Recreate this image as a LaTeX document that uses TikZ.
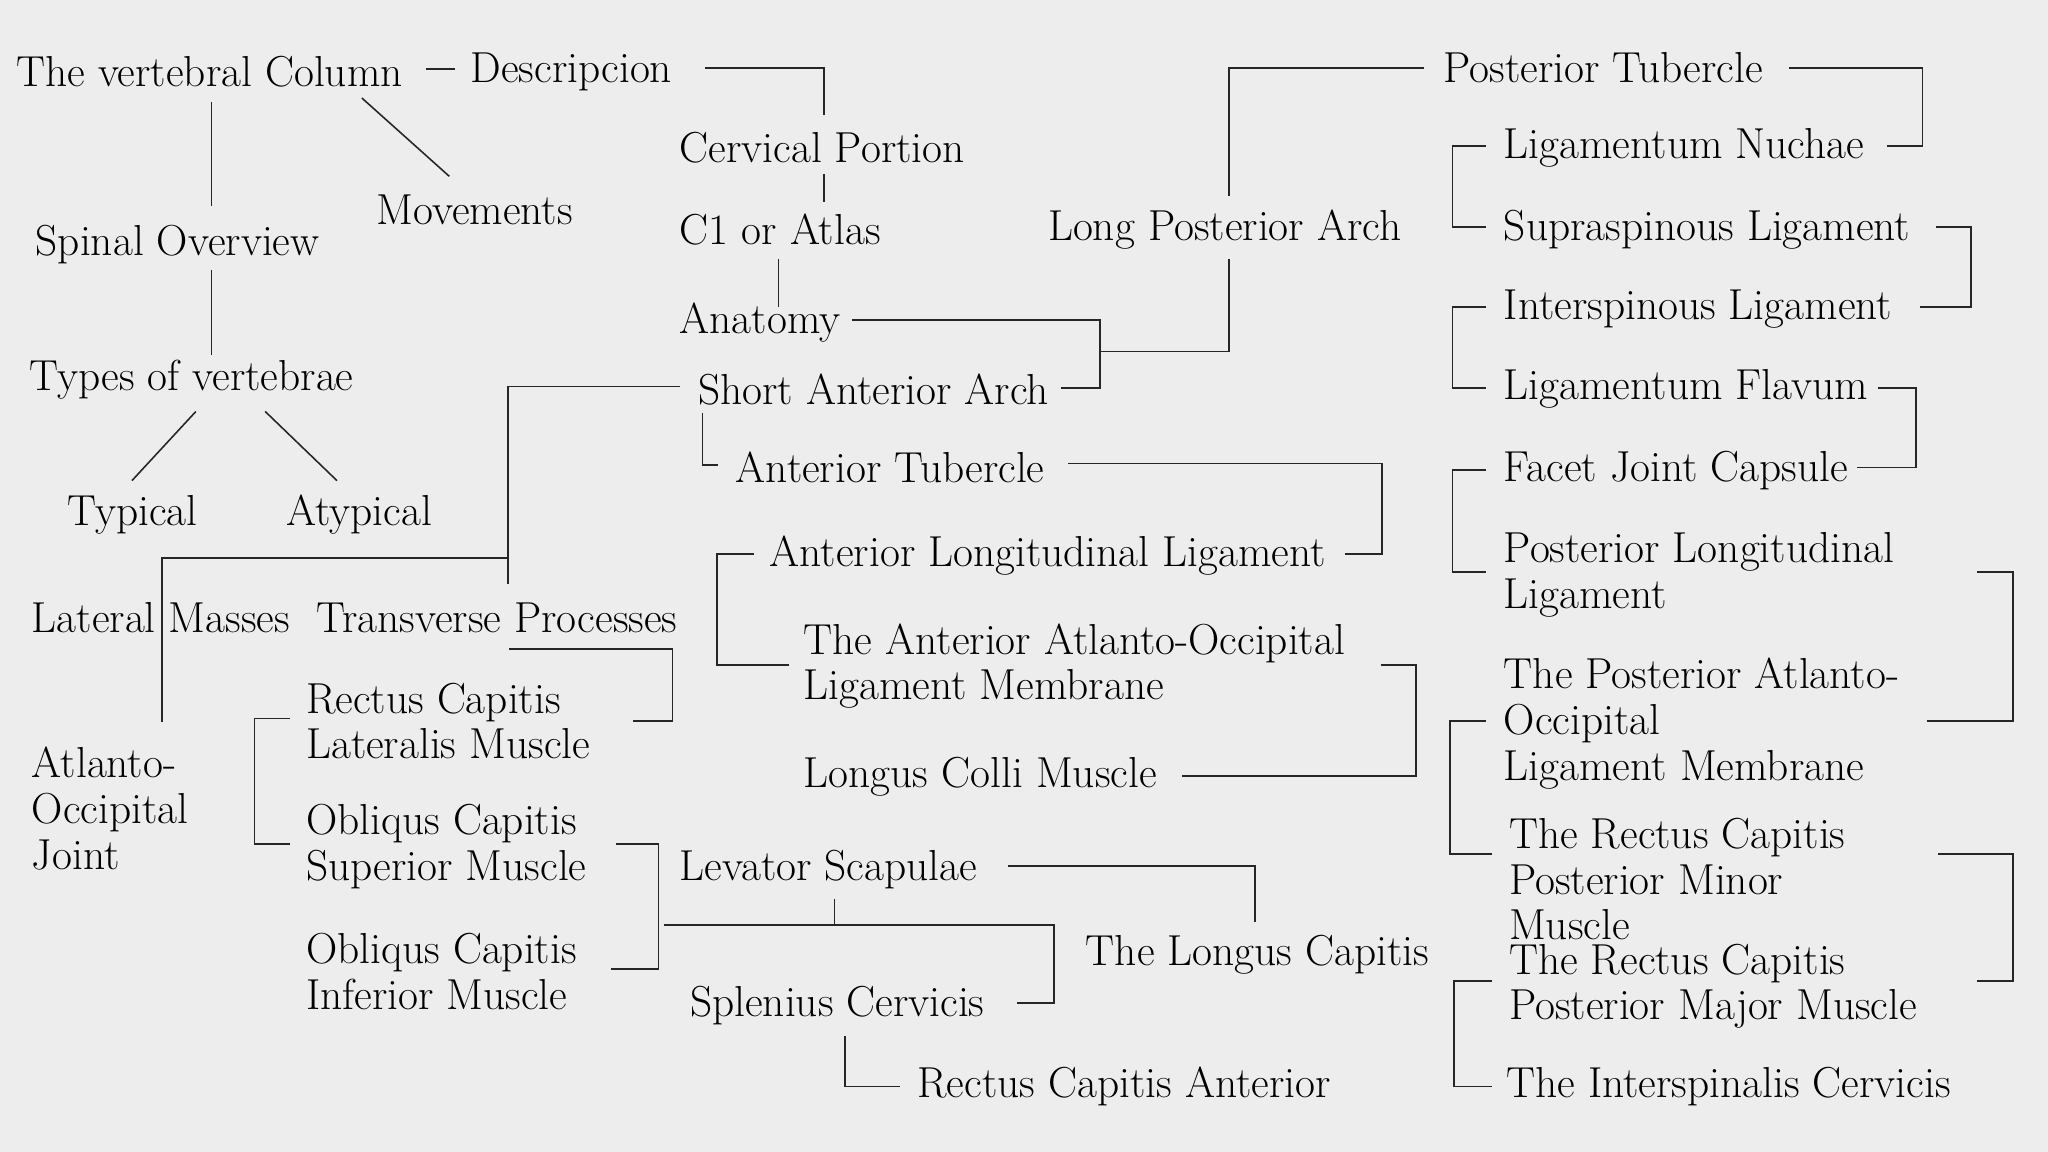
\documentclass[tikz,border=0pt]{standalone}
\usepackage{fontspec}
\begin{document}
\begin{tikzpicture}[x=0.5pt,y=-0.5pt,
  lbl/.style={anchor=west,inner sep=0pt,align=left,font=\fontsize{16.6}{17.5}\selectfont},
  ln/.style={draw=black!85,line width=0.6pt}]
\fill[gray!14] (0,0) rectangle (1568,882);
\useasboundingbox (0,0) rectangle (1568,882);
\node[lbl] (col) at (12,55) {The vertebral Column};
\node[lbl] (des) at (360,55) {Descripcion};
\node[lbl] (mov) at (288,161) {Movements};
\node[lbl] (spo) at (27,187) {Spinal Overview};
\node[lbl] (tov) at (22,291) {Types of vertebrae};
\node[lbl] (typ) at (51,394) {Typical};
\node[lbl] (aty) at (219,394) {Atypical};
\node[lbl] (cer) at (520,113) {Cervical Portion};
\node[lbl] (c1) at (520,176) {C1 or Atlas};
\node[lbl] (ana) at (520,247) {Anatomy};
\node[lbl] (saa) at (534,298) {Short Anterior Arch};
\node[lbl] (atu) at (563,358) {Anterior Tubercle};
\node[lbl] (all) at (589,425) {Anterior Longitudinal Ligament};
\node[lbl] (aao) at (615,510) {The Anterior Atlanto-Occipital\\Ligament Membrane};
\node[lbl] (lcm) at (615,595) {Longus Colli Muscle};
\node[lbl] (lma) at (24,473) {Lateral Masses};
\node[lbl] (tpr) at (242,473) {Transverse Processes};
\node[lbl] (aoj) at (24,619) {Atlanto-\\Occipital\\Joint};
\node[lbl] (rcl) at (234,552) {Rectus Capitis\\Lateralis Muscle};
\node[lbl] (ocs) at (234,648) {Obliqus Capitis\\Superior Muscle};
\node[lbl] (oci) at (234,744) {Obliqus Capitis\\Inferior Muscle};
\node[lbl] (lsc) at (520,666) {Levator Scapulae};
\node[lbl] (tlc) at (831,731) {The Longus Capitis};
\node[lbl] (spc) at (528,770) {Splenius Cervicis};
\node[lbl] (rca) at (702,832) {Rectus Capitis Anterior};
\node[lbl] (lpa) at (802,176) {Long Posterior Arch};
\node[lbl] (ptu) at (1105,52) {Posterior Tubercle};
\node[lbl] (lnu) at (1151,113) {Ligamentum Nuchae};
\node[lbl] (ssl) at (1151,176) {Supraspinous Ligament};
\node[lbl] (isl) at (1151,237) {Interspinous Ligament};
\node[lbl] (lfl) at (1151,298) {Ligamentum Flavum};
\node[lbl] (fjc) at (1151,360) {Facet Joint Capsule};
\node[lbl] (pll) at (1151,440) {Posterior Longitudinal\\Ligament};
\node[lbl] (pao) at (1151,554) {The Posterior Atlanto-\\Occipital\\Ligament Membrane};
\node[lbl] (rmi) at (1155,673) {The Rectus Capitis\\Posterior Minor\\Muscle};
\node[lbl] (rma) at (1155,755) {The Rectus Capitis\\Posterior Major Muscle};
\node[lbl] (icv) at (1153,832) {The Interspinalis Cervicis};
% connectors
\coordinate (j1) at (842,269);
\coordinate (j2) at (389,427);
\coordinate (j3) at (639,708);
\draw[ln] (326,53) -- (348,53);
\draw[ln] (277,75) -- (344,135);
\draw[ln] (162,78) -- (162,158);
\draw[ln] (162,207) -- (162,272);
\draw[ln] (150,315) -- (101,368);
\draw[ln] (203,315) -- (258,368);
\draw[ln] (540,52) -- (631,52) -- (631,88);
\draw[ln] (631,133) -- (631,155);
\draw[ln] (596,198) -- (596,235);
\draw[ln] (652,245) -- (842,245) -- (842,297) -- (812,297);
\draw[ln] (j1) -- (941,269) -- (941,198);
\draw[ln] (941,150) -- (941,52) -- (1090,52);
\draw[ln] (1370,52) -- (1472,52) -- (1472,112) -- (1445,112);
\draw[ln] (1138,112) -- (1112,112) -- (1112,174) -- (1138,174);
\draw[ln] (1482,174) -- (1509,174) -- (1509,235) -- (1470,235);
\draw[ln] (1138,235) -- (1112,235) -- (1112,297) -- (1138,297);
\draw[ln] (1438,297) -- (1467,297) -- (1467,358) -- (1422,358);
\draw[ln] (1138,360) -- (1112,360) -- (1112,438) -- (1138,438);
\draw[ln] (1514,438) -- (1541,438) -- (1541,552) -- (1475,552);
\draw[ln] (1138,552) -- (1110,552) -- (1110,654) -- (1142,654);
\draw[ln] (1484,654) -- (1541,654) -- (1541,751) -- (1514,751);
\draw[ln] (1142,751) -- (1113,751) -- (1113,832) -- (1142,832);
\draw[ln] (521,296) -- (389,296) -- (389,447);
\draw[ln] (j2) -- (124,427) -- (124,553);
\draw[ln] (538,316) -- (538,356) -- (550,356);
\draw[ln] (818,355) -- (1058,355) -- (1058,424) -- (1030,424);
\draw[ln] (577,424) -- (549,424) -- (549,509) -- (604,509);
\draw[ln] (1057,509) -- (1084,509) -- (1084,594) -- (905,594);
\draw[ln] (390,497) -- (515,497) -- (515,552) -- (485,552);
\draw[ln] (222,550) -- (195,550) -- (195,646) -- (222,646);
\draw[ln] (472,646) -- (504,646) -- (504,742) -- (468,742);
\draw[ln] (508,708) -- (807,708) -- (807,768) -- (779,768);
\draw[ln] (639,688) -- (j3);
\draw[ln] (772,663) -- (961,663) -- (961,706);
\draw[ln] (647,793) -- (647,832) -- (689,832);
\end{tikzpicture}
\end{document}
